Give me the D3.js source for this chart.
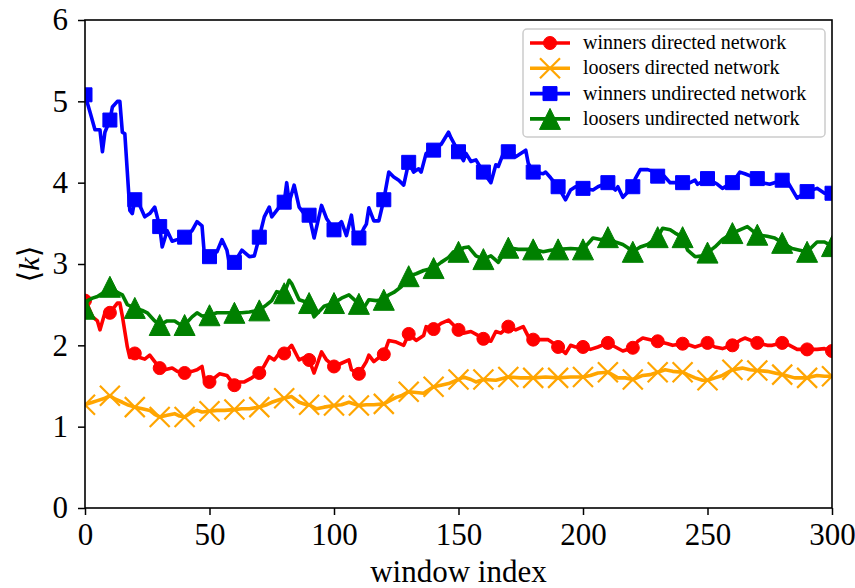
<!DOCTYPE html>
<html>
<head>
<meta charset="utf-8">
<script src="https://cdn.jsdelivr.net/npm/d3@7"></script>
<style>
  body { margin: 0; background: #fff; }
  svg { display: block; }
  text { font-family: "Liberation Serif", "DejaVu Serif", serif; fill: #000; }
</style>
</head>
<body>
<svg width="855" height="588"></svg>
<script>
// window indices and <k> readings, one pair of arrays per series
const winnersDirectedIdx = [0,1,3,5,6,8,10,12,13,14,15,17,18,20,22,24,26,28,30,32,35,37,40,43,45,47,48,50,52,54,57,60,62,64,67,70,72,74,76,78,80,83,86,88,90,92,95,97,100,103,106,107,110,113,114,116,118,120,122,125,128,130,133,136,137,140,143,146,148,150,152,155,158,160,163,165,167,170,173,176,178,180,183,186,188,190,193,195,197,200,203,206,210,213,216,220,222,224,227,230,234,236,240,243,245,250,253,256,260,263,265,270,274,276,280,283,286,290,294,297,300];
const winnersDirectedK = [2.55,2.5,2.35,2.3,2.19,2.4,2.4,2.48,2.52,2.52,2.36,1.98,1.85,1.9,1.85,1.83,1.88,1.8,1.72,1.7,1.72,1.68,1.66,1.68,1.7,1.74,1.57,1.55,1.6,1.65,1.63,1.51,1.55,1.55,1.6,1.66,1.75,1.86,1.82,1.9,1.9,2.0,1.82,1.85,1.82,1.66,1.92,1.82,1.74,1.78,1.82,1.7,1.65,1.8,1.88,1.8,1.85,1.89,2.06,2.04,2.0,2.14,2.06,2.12,2.23,2.2,2.27,2.31,2.25,2.19,2.15,2.17,2.12,2.08,2.05,2.17,2.15,2.23,2.19,2.23,2.11,2.07,2.07,2.07,2.03,1.98,1.9,2.0,1.98,1.98,1.95,1.98,2.03,1.98,1.93,1.97,2.05,2.09,2.07,2.05,2.02,2.0,2.02,2.0,1.98,2.03,1.98,1.96,2.0,2.06,2.09,2.03,2.0,2.0,2.03,2.0,1.95,1.95,1.95,1.96,1.93];

const loosersDirectedIdx = [0,3,5,8,10,12,15,17,20,23,26,28,30,33,36,38,40,43,45,47,50,53,56,60,63,66,70,73,75,78,80,83,86,89,90,93,96,100,103,106,110,113,116,120,123,125,127,130,133,136,140,143,146,150,152,155,157,160,165,170,175,180,185,190,195,200,203,206,210,214,217,220,224,227,230,233,236,240,242,245,248,250,253,256,260,264,267,270,274,277,280,285,288,290,294,297,300];
const loosersDirectedK = [1.27,1.3,1.32,1.35,1.38,1.34,1.3,1.27,1.24,1.22,1.2,1.15,1.12,1.14,1.16,1.13,1.12,1.18,1.2,1.18,1.19,1.2,1.2,1.21,1.22,1.22,1.24,1.27,1.3,1.33,1.35,1.37,1.3,1.27,1.27,1.22,1.24,1.26,1.27,1.3,1.26,1.27,1.27,1.28,1.33,1.36,1.38,1.43,1.42,1.41,1.49,1.51,1.53,1.58,1.61,1.58,1.55,1.58,1.57,1.61,1.6,1.6,1.61,1.6,1.61,1.61,1.63,1.66,1.67,1.6,1.6,1.58,1.63,1.64,1.67,1.7,1.68,1.67,1.64,1.6,1.57,1.57,1.6,1.63,1.7,1.72,1.7,1.69,1.68,1.66,1.64,1.6,1.6,1.6,1.63,1.62,1.62];

const winnersUndirectedIdx = [0,2,4,6,7,8,10,11,13,14,15,16,18,19,20,22,24,26,28,30,31,33,35,37,40,43,45,47,48,50,53,55,57,58,60,63,66,68,70,72,74,75,78,80,81,82,84,86,88,90,92,95,97,100,103,105,107,108,110,112,113,114,116,118,120,122,124,126,128,130,132,134,135,137,140,143,146,147,150,152,153,155,157,160,163,165,166,168,170,173,177,178,180,184,185,187,190,193,195,197,200,204,206,210,213,214,216,220,221,223,226,228,230,232,235,240,243,245,246,250,254,256,260,263,265,270,272,275,280,282,286,290,294,297,300];
const winnersUndirectedK = [5.08,4.87,4.65,4.65,4.38,4.62,4.77,4.93,5.0,5.0,4.62,4.6,3.66,3.62,3.79,3.72,3.58,3.62,3.7,3.46,3.21,3.41,3.28,3.3,3.33,3.41,3.52,3.47,3.09,3.09,3.15,3.3,3.17,3.0,3.02,3.17,3.09,3.1,3.33,3.58,3.7,3.58,3.7,3.76,4.0,3.76,3.97,3.7,3.62,3.6,3.32,3.72,3.56,3.42,3.52,3.35,3.6,3.38,3.32,3.44,3.49,3.69,3.53,3.53,3.79,4.13,4.07,4.03,3.97,4.25,4.13,4.17,4.13,4.36,4.4,4.47,4.62,4.55,4.38,4.27,4.36,4.26,4.28,4.13,4.0,4.22,4.2,4.36,4.38,4.32,4.4,4.24,4.13,4.11,4.13,4.06,3.95,3.79,3.91,3.95,3.93,3.91,3.95,4.0,3.91,3.95,3.82,3.95,4.05,4.16,4.16,4.14,4.08,4.1,4.0,4.0,4.0,4.03,3.98,4.05,3.98,3.93,4.0,4.13,4.11,4.05,4.0,3.98,4.03,4.02,3.81,3.89,3.93,3.87,3.87];

const loosersUndirectedIdx = [0,1,3,5,7,10,13,15,17,20,23,25,28,30,33,36,38,40,43,45,47,50,53,56,60,63,66,70,73,75,77,80,82,83,86,90,92,96,100,103,106,110,112,114,117,120,122,124,127,130,133,136,140,143,146,148,150,152,154,157,160,163,166,168,170,174,177,180,184,187,190,195,200,204,207,210,213,216,218,220,223,226,230,232,235,237,240,242,245,248,250,253,256,260,263,266,270,274,277,280,284,287,290,294,297,300];
const loosersUndirectedK = [2.45,2.55,2.58,2.6,2.64,2.72,2.65,2.62,2.5,2.46,2.43,2.4,2.3,2.25,2.3,2.3,2.26,2.25,2.35,2.4,2.36,2.37,2.4,2.4,2.4,2.4,2.41,2.43,2.5,2.55,2.66,2.64,2.8,2.76,2.56,2.52,2.35,2.48,2.52,2.58,2.62,2.51,2.46,2.56,2.55,2.56,2.62,2.65,2.72,2.85,2.88,2.92,2.95,3.02,3.08,3.15,3.15,3.2,3.21,3.1,3.06,3.1,3.02,3.12,3.2,3.18,3.18,3.18,3.15,3.17,3.18,3.19,3.18,3.32,3.3,3.33,3.27,3.24,3.2,3.15,3.21,3.24,3.33,3.44,3.42,3.38,3.33,3.17,3.09,3.1,3.14,3.21,3.3,3.38,3.42,3.46,3.36,3.34,3.32,3.26,3.19,3.17,3.15,3.27,3.27,3.22];

const seriesLabels = ["winners directed network", "loosers directed network", "winners undirected network", "loosers undirected network"];
const seriesColors = ["#ff0000", "#ffa500", "#0000ff", "#008000"];
const xTicks = [0, 50, 100, 150, 200, 250, 300];
const yTicks = [0, 1, 2, 3, 4, 5, 6];
const markEvery = 10;

// matplotlib-like marker shapes (size = box side squared)
const mCircle = { draw(c, s) { const r = Math.sqrt(s) / 2; c.moveTo(r, 0); c.arc(0, 0, r, 0, 2 * Math.PI); } };
const mSquare = { draw(c, s) { const r = Math.sqrt(s) / 2; c.rect(-r, -r, 2 * r, 2 * r); } };
const mTriangle = { draw(c, s) { const r = Math.sqrt(s) / 2; c.moveTo(0, -r); c.lineTo(r, r); c.lineTo(-r, r); c.closePath(); } };
const mX = { draw(c, s) { const r = Math.sqrt(s) / 2; c.moveTo(-r, -r); c.lineTo(r, r); c.moveTo(-r, r); c.lineTo(r, -r); } };

const series = [
  { idx: winnersDirectedIdx, k: winnersDirectedK, shape: mCircle, size: 13, filled: true },
  { idx: loosersDirectedIdx, k: loosersDirectedK, shape: mX, size: 20, filled: false },
  { idx: winnersUndirectedIdx, k: winnersUndirectedK, shape: mSquare, size: 14, filled: true },
  { idx: loosersUndirectedIdx, k: loosersUndirectedK, shape: mTriangle, size: 21, filled: true }
].map((s, i) => ({ ...s, label: seriesLabels[i], color: seriesColors[i],
  pts: s.idx.map((w, j) => ({ w, k: s.k[j] })) }));

const margin = { top: 20, right: 23, bottom: 80, left: 85 };
const width = 855 - margin.left - margin.right;
const height = 588 - margin.top - margin.bottom;

const svg = d3.select('svg');
const g = svg.append('g').attr('transform', `translate(${margin.left},${margin.top})`);

const x = d3.scaleLinear().domain([0, 300]).range([0, width]);
const y = d3.scaleLinear().domain([0, 6]).range([height, 0]);

g.append('clipPath').attr('id', 'plotClip')
  .append('rect').attr('width', width).attr('height', height);

const plot = g.append('g').attr('clip-path', 'url(#plotClip)');
const line = d3.line().x(d => x(d.w)).y(d => y(d.k));

const markerPath = (s) => d3.symbol().type(s.shape).size(s.size * s.size)();

series.forEach(s => {
  plot.append('path')
    .datum(s.pts)
    .attr('d', line)
    .attr('fill', 'none')
    .attr('stroke', s.color)
    .attr('stroke-width', 3.6)
    .attr('stroke-linejoin', 'round')
    .attr('stroke-linecap', 'square');
  plot.selectAll(null)
    .data(s.pts.filter(d => d.w % markEvery === 0))
    .enter()
    .append('path')
    .attr('transform', d => `translate(${x(d.w)},${y(d.k)})`)
    .attr('d', markerPath(s))
    .attr('fill', s.filled ? s.color : 'none')
    .attr('stroke', s.color)
    .attr('stroke-width', s.filled ? 1 : 2.2);
});

// axes
const xAxis = g.append('g').attr('transform', `translate(0,${height})`)
  .call(d3.axisBottom(x).tickValues(xTicks).tickFormat(d3.format('d')).tickSize(7).tickPadding(8));
const yAxis = g.append('g')
  .call(d3.axisLeft(y).tickValues(yTicks).tickFormat(d3.format('d')).tickSize(7).tickPadding(10));
[xAxis, yAxis].forEach(a => {
  a.select('.domain').remove();
  a.selectAll('line').attr('stroke', '#000').attr('stroke-width', 1.5);
  a.selectAll('text').style('font-size', '31px').attr('fill', '#000');
});

g.append('rect')
  .attr('width', width).attr('height', height)
  .attr('fill', 'none').attr('stroke', '#000').attr('stroke-width', 1.6);

g.append('text')
  .attr('x', width / 2).attr('y', height + 74)
  .attr('text-anchor', 'middle')
  .style('font-size', '31px')
  .text('window index');

const yLabel = svg.append('text')
  .attr('transform', `translate(39,${margin.top + height / 2}) rotate(-90)`)
  .attr('text-anchor', 'middle')
  .style('font-size', '30px');
yLabel.append('tspan').style('font-family', '"DejaVu Serif"').style('font-weight', 300).text('⟨');
yLabel.append('tspan').style('font-style', 'italic').text('k');
yLabel.append('tspan').style('font-family', '"DejaVu Serif"').style('font-weight', 300).text('⟩');

// legend
const legend = svg.append('g').attr('transform', 'translate(523,29)');
legend.append('rect')
  .attr('width', 302).attr('height', 108).attr('rx', 4)
  .attr('fill', '#fff').attr('fill-opacity', 0.8)
  .attr('stroke', '#cccccc').attr('stroke-width', 1.5);
series.forEach((s, i) => {
  const row = legend.append('g').attr('transform', `translate(0,${14 + i * 25.3})`);
  row.append('line')
    .attr('x1', 7).attr('x2', 47)
    .attr('stroke', s.color).attr('stroke-width', 3.6);
  row.append('path')
    .attr('transform', 'translate(27,0)')
    .attr('d', markerPath(s))
    .attr('fill', s.filled ? s.color : 'none')
    .attr('stroke', s.color)
    .attr('stroke-width', s.filled ? 1 : 2.2);
  row.append('text')
    .attr('x', 60).attr('y', 6)
    .style('font-size', '20px')
    .text(s.label);
});
</script>
</body>
</html>
